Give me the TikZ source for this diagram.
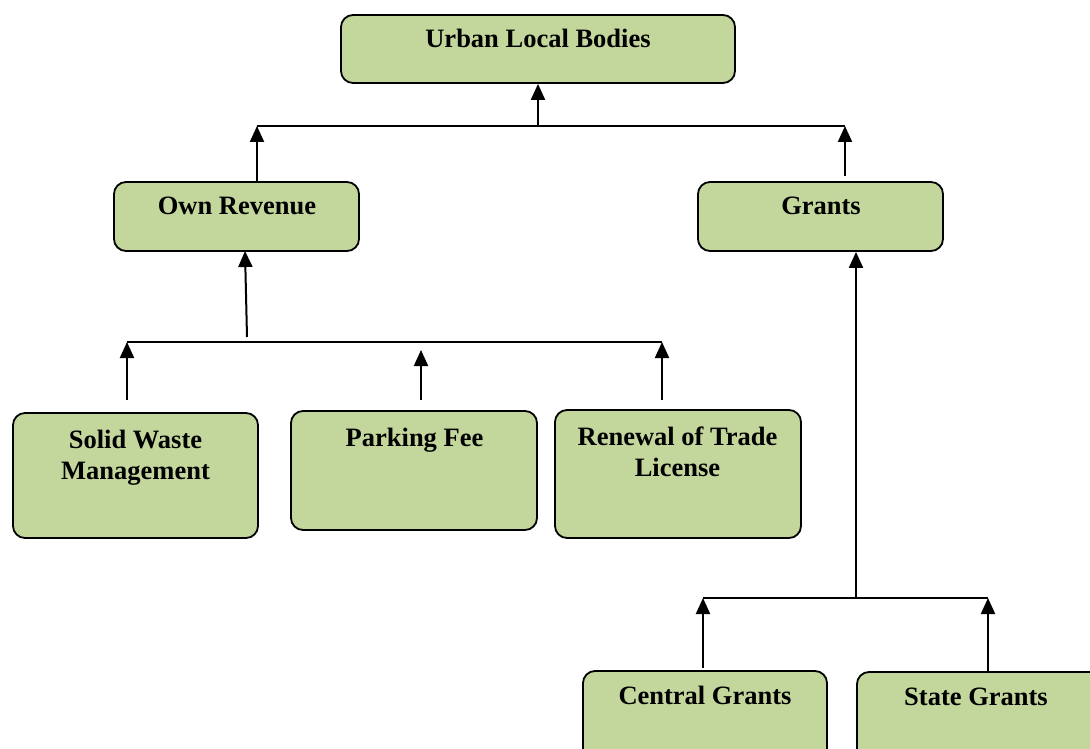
\documentclass[tikz,border=0pt]{standalone}
\usepackage{fontspec}
\setmainfont{Liberation Serif}
\usetikzlibrary{arrows.meta,calc}
\definecolor{boxgreen}{HTML}{C3D69B}
\tikzset{
  box/.style={draw=black, line width=1.8pt, fill=boxgreen, rounded corners=12pt, inner sep=0pt},
  lbl/.style={font=\fontsize{26.5}{31}\selectfont\bfseries, align=center, anchor=base, inner sep=0pt},
  conn/.style={line width=2pt, draw=black},
  arr/.style={conn, -{Triangle[length=16pt,width=14pt]}}
}
\begin{document}
\begin{tikzpicture}[x=1pt,y=-1pt]
\useasboundingbox (0,0) rectangle (1090,749);
\clip (0,0) rectangle (1090,749);
% boxes
\node[box, minimum width=394pt, minimum height=68pt] (uls) at (538,49) {};
\node[box, minimum width=245pt, minimum height=69pt] (own) at (236.5,216.5) {};
\node[box, minimum width=245pt, minimum height=69pt] (gr) at (820.5,216.5) {};
\node[box, minimum width=245pt, minimum height=125pt] (sw) at (135.5,475.5) {};
\node[box, minimum width=246pt, minimum height=119pt] (pf) at (414,470.5) {};
\node[box, minimum width=246pt, minimum height=128pt] (rtl) at (678,474) {};
\node[box, minimum width=244pt, minimum height=90pt] (cg) at (705,716) {};
\node[box, minimum width=245pt, minimum height=90pt] (sg) at (979.5,717) {};
% labels
\node[lbl] (tuls) at (538,48) {Urban Local Bodies};
\node[lbl] (town) at (237,214) {Own Revenue};
\node[lbl] (tgr) at (821,214) {Grants};
\node[lbl] (tsw) at (135.5,479) {Solid Waste\\Management};
\node[lbl] (tpf) at (414.5,446) {Parking Fee};
\node[lbl] (trtl) at (677.5,476) {Renewal of Trade\\License};
\node[lbl] (tcg) at (705,704) {Central Grants};
\node[lbl] (tsg) at (976,705) {State Grants};
% top level bar
\coordinate (b1l) at (257,126);
\coordinate (b1m) at (538,126);
\coordinate (b1r) at (845,126);
\coordinate (grtop) at (845,176);
\draw[conn] (b1l) -- (b1r);
\draw[arr] (b1m) -- (uls.south);
\draw[arr] (own.north -| b1l) -- (b1l);
\draw[arr] (grtop) -- (b1r);
% own revenue bar
\coordinate (b2l) at (127,342);
\coordinate (b2r) at (662,342);
\coordinate (b2m) at (247,337);
\coordinate (ownbot) at (245,251);
\coordinate (pfarr) at (421,350);
\coordinate (swlo) at (127,400);
\coordinate (pflo) at (421,400);
\coordinate (rtllo) at (662,400);
\draw[conn] (b2l) -- (b2r);
\draw[arr] (b2m) -- (ownbot);
\draw[arr] (swlo) -- (b2l);
\draw[arr] (pflo) -- (pfarr);
\draw[arr] (rtllo) -- (b2r);
% grants bar
\coordinate (b3l) at (703,598);
\coordinate (b3r) at (988,598);
\coordinate (b3m) at (856,598);
\coordinate (cglo) at (703,668);
\coordinate (sglo) at (988,672);
\draw[conn] (b3l) -- (b3r);
\draw[arr] (b3m) -- (gr.south -| b3m);
\draw[arr] (cglo) -- (b3l);
\draw[arr] (sglo) -- (b3r);
\end{tikzpicture}
\end{document}
